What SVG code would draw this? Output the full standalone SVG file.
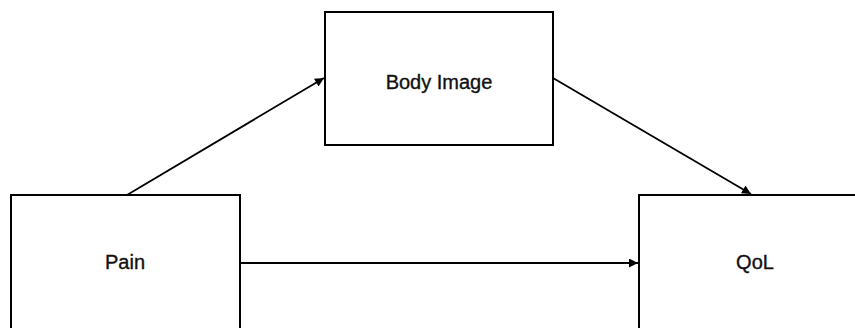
<svg xmlns="http://www.w3.org/2000/svg" width="855" height="328" viewBox="0 0 855 328">
  <style>
    .box { fill: #ffffff; stroke: #000000; stroke-width: 2; }
    .label { font-family: "Liberation Sans", Arial, sans-serif; font-size: 20px; fill: #111111; stroke: #111111; stroke-width: 0.35; text-anchor: middle; }
    .link { stroke: #000000; stroke-width: 1.8; fill: none; marker-end: url(#arrow); }
  </style>
  <defs>
    <marker id="arrow" viewBox="0 0 10 10" refX="10" refY="5" markerWidth="5.5" markerHeight="5" markerUnits="strokeWidth" orient="auto">
      <path d="M0,0 L10,5 L0,10 z" fill="#000000"/>
    </marker>
  </defs>
  <rect width="855" height="328" fill="#ffffff"/>

  <g id="node-body-image">
    <rect class="box" x="325" y="12" width="228" height="133"/>
    <text class="label" x="439" y="89">Body Image</text>
  </g>

  <g id="node-pain">
    <rect class="box" x="11" y="195" width="229" height="137"/>
    <text class="label" x="125" y="269">Pain</text>
  </g>

  <g id="node-qol">
    <rect class="box" x="639" y="195" width="229" height="137"/>
    <text class="label" x="755" y="269">QoL</text>
  </g>

  <g id="connectors">
    <line class="link" x1="127" y1="195" x2="324" y2="78"/>
    <line class="link" x1="553" y1="78" x2="751" y2="194"/>
    <line class="link" x1="240" y1="263" x2="638" y2="263"/>
  </g>
</svg>
